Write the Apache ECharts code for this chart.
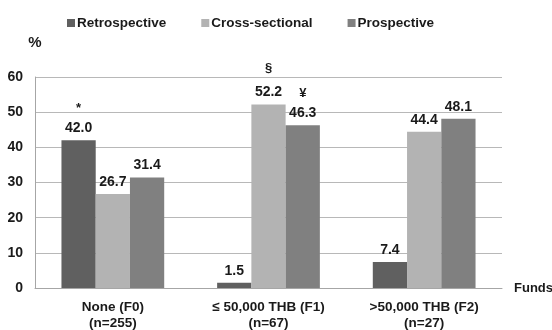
<!DOCTYPE html>
<html><head><meta charset="utf-8">
<script src="https://cdn.jsdelivr.net/npm/echarts@6/dist/echarts.min.js"></script>
<style>html,body{margin:0;padding:0;background:#fff}#c{width:552px;height:330px}</style>
</head><body><div id="c"></div>
<script>
const categories = ['None (F0)\n(n=255)', '≤ 50,000 THB (F1)\n(n=67)', '>50,000 THB (F2)\n(n=27)'];
const seriesNames = ['Retrospective', 'Cross-sectional', 'Prospective'];
const retrospective = [42.0, 1.5, 7.4];
const crossSectional = [26.7, 52.2, 44.4];
const prospective = [31.4, 46.3, 48.1];
const retroMarks = ['*', '', ''];
const crossMarks = ['', '§', ''];
const prospMarks = ['', '¥', ''];
const colors = ['#606060', '#b3b3b3', '#808080'];
const FONT = '"Liberation Sans", Arial, sans-serif';

function mkSeries(name, vals, marks, color) {
  return {
    name, type: 'bar', barGap: '0%', barCategoryGap: '34%',
    itemStyle: { color },
    data: vals,
    label: {
      show: true, position: 'top', distance: 2,
      fontFamily: FONT, fontWeight: 'bold', fontSize: 14, color: '#1a1a1a',
      formatter: p => {
        const m = marks[p.dataIndex];
        const t = p.value.toFixed(1);
        if (!m) return t;
        return m === '§' ? '{m|' + m + '}\n{g|}\n' + t : '{m|' + m + '}\n' + t;
      },
      lineHeight: 20,
      rich: { m: { fontFamily: FONT, fontWeight: 'bold', fontSize: 13, color: '#1a1a1a', lineHeight: 19 }, g: { lineHeight: 5, height: 5 } }
    }
  };
}

const chart = echarts.init(document.getElementById('c'));
chart.setOption({
  animation: false,
  textStyle: { fontFamily: FONT },
  color: colors,
  legend: {
    top: 11, left: 62, itemWidth: 8, itemHeight: 8, itemGap: 35, icon: 'rect',
    textStyle: { fontFamily: FONT, fontWeight: 'bold', fontSize: 13.5, color: '#1a1a1a', padding: [0, 0, 0, -3] },
    data: seriesNames
  },
  grid: { left: 35, right: 50, top: 77, bottom: 42, containLabel: false, outerBoundsMode: 'none' },
  xAxis: {
    type: 'category', data: categories,
    name: 'Funds', nameLocation: 'end', nameGap: 12,
    nameTextStyle: { fontFamily: FONT, fontWeight: 'bold', fontSize: 13, color: '#1a1a1a', padding: [0, 0, 12, 0] },
    axisLine: { lineStyle: { color: '#a6a6a6', width: 1 } },
    axisTick: { show: false },
    axisLabel: { fontFamily: FONT, fontWeight: 'bold', fontSize: 13.5, color: '#1a1a1a', margin: 11, lineHeight: 16 }
  },
  yAxis: {
    type: 'value', min: 0, max: 60, interval: 10,
    name: '%', nameLocation: 'end', nameGap: 27,
    nameTextStyle: { fontFamily: FONT, fontWeight: 'bold', fontSize: 15, color: '#1a1a1a', align: 'center' },
    axisLine: { show: true, lineStyle: { color: '#a6a6a6' } },
    axisTick: { show: false },
    splitLine: { lineStyle: { color: '#b8b8b8', width: 1 } },
    axisLabel: { fontFamily: FONT, fontWeight: 'bold', fontSize: 14, color: '#1a1a1a', margin: 12 }
  },
  series: [
    mkSeries(seriesNames[0], retrospective, retroMarks, colors[0]),
    mkSeries(seriesNames[1], crossSectional, crossMarks, colors[1]),
    mkSeries(seriesNames[2], prospective, prospMarks, colors[2])
  ]
});
</script></body></html>
